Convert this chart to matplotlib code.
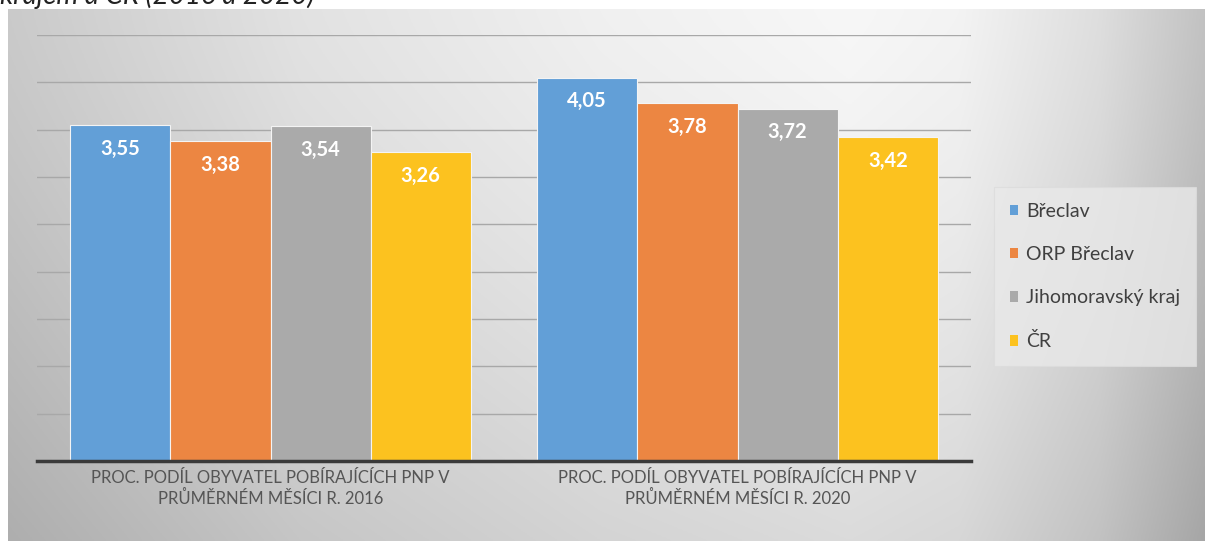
import numpy as np
import matplotlib.pyplot as plt
from matplotlib.patches import Patch

# data
categories = ['PROC. PODÍL OBYVATEL POBÍRAJÍCÍCH PNP V\nPRŮMĚRNÉM MĚSÍCI R. 2016',
              'PROC. PODÍL OBYVATEL POBÍRAJÍCÍCH PNP V\nPRŮMĚRNÉM MĚSÍCI R. 2020']
series = ['Břeclav', 'ORP Břeclav', 'Jihomoravský kraj', 'ČR']
breclav = [3.55, 4.05]
orp_breclav = [3.38, 3.78]
jihomoravsky = [3.54, 3.72]
cr = [3.26, 3.42]
colors = ['#629fd7', '#ec8642', '#aaaaaa', '#fcc21f']

values = [breclav, orp_breclav, jihomoravsky, cr]

W, H = 1205, 541
plt.rcParams['font.family'] = ['Lato', 'DejaVu Sans']
fig = plt.figure(figsize=(W / 100, H / 100), dpi=100)

# gradient background of the chart area
bg = fig.add_axes([8 / W, 0, 1 - 8 / W, 1 - 9 / H], zorder=0)
xs = np.linspace(8, W, 600)
ys = np.linspace(9, H, 270)
X, Y = np.meshgrid(xs, ys)
hx = np.interp(X, [8, 300, 600, 850, 960, 1100, 1205], [202, 226, 240, 247, 243, 222, 194])
val = hx - 28 * ((Y - 9) / (H - 9)) ** 1.3
img = np.clip(val / 255.0, 0, 1)
bg.imshow(np.dstack([img, img, img]), aspect='auto', extent=[0, 1, 0, 1])
bg.axis('off')

# caption above the chart, cut off at the top edge
fig.text(0.0, 1 - 4 / H, 'krajem a ČR (2016 a 2020)', fontsize=20, style='italic',
         color='#222222', ha='left', va='baseline')

ax = fig.add_axes([37 / W, 1 - 461 / H, (971 - 37) / W, (461 - 35) / H], zorder=1)
ax.patch.set_alpha(0)

x = np.arange(len(categories))
bw = 0.2145
for i, (name, vals, c) in enumerate(zip(series, values, colors)):
    pos = x + (i - 1.5) * bw
    bars = ax.bar(pos, vals, bw, color=c, edgecolor='#f4f4f4', linewidth=0.8,
                  label=name, zorder=2)
    for b, v in zip(bars, vals):
        ax.annotate(f'{v:.2f}'.replace('.', ','), (b.get_x() + b.get_width() / 2, v),
                    xytext=(0, -17), textcoords='offset points', ha='center', va='center',
                    color='white', fontsize=14.5, fontweight='bold', zorder=3)

ax.set_xlim(-0.5, 1.5)
ax.set_ylim(0, 4.5)
ax.set_yticks(np.arange(0.5, 4.51, 0.5))
ax.yaxis.grid(True, color='#a8a8a8', linewidth=1, zorder=0)
ax.set_axisbelow(True)
ax.tick_params(axis='y', left=False, labelleft=False)
ax.tick_params(axis='x', bottom=False, pad=3)
ax.set_xticks(x)
ax.set_xticklabels(categories, fontsize=12, color='#555555', linespacing=1.3)
for s in ['top', 'right', 'left']:
    ax.spines[s].set_visible(False)
ax.spines['bottom'].set_color('#3a3a3a')
ax.spines['bottom'].set_linewidth(2.5)

handles = [Patch(facecolor=c, edgecolor='none') for c in colors]
leg = fig.legend(handles, series, loc='upper left',
                 bbox_to_anchor=(1000 / W, 1 - 193 / H), frameon=True,
                 fontsize=14, handlelength=0.45, handleheight=0.45,
                 handletextpad=0.4, labelspacing=1.35, borderpad=0.5,
                 borderaxespad=0, labelcolor='#404040')
leg.get_frame().set_facecolor('#e9e9e9')
leg.get_frame().set_edgecolor('#dcdcdc')
leg.get_frame().set_linewidth(0.8)
leg.get_frame().set_boxstyle('square')
leg.set_zorder(4)

fig.savefig('out.png', dpi=100)
